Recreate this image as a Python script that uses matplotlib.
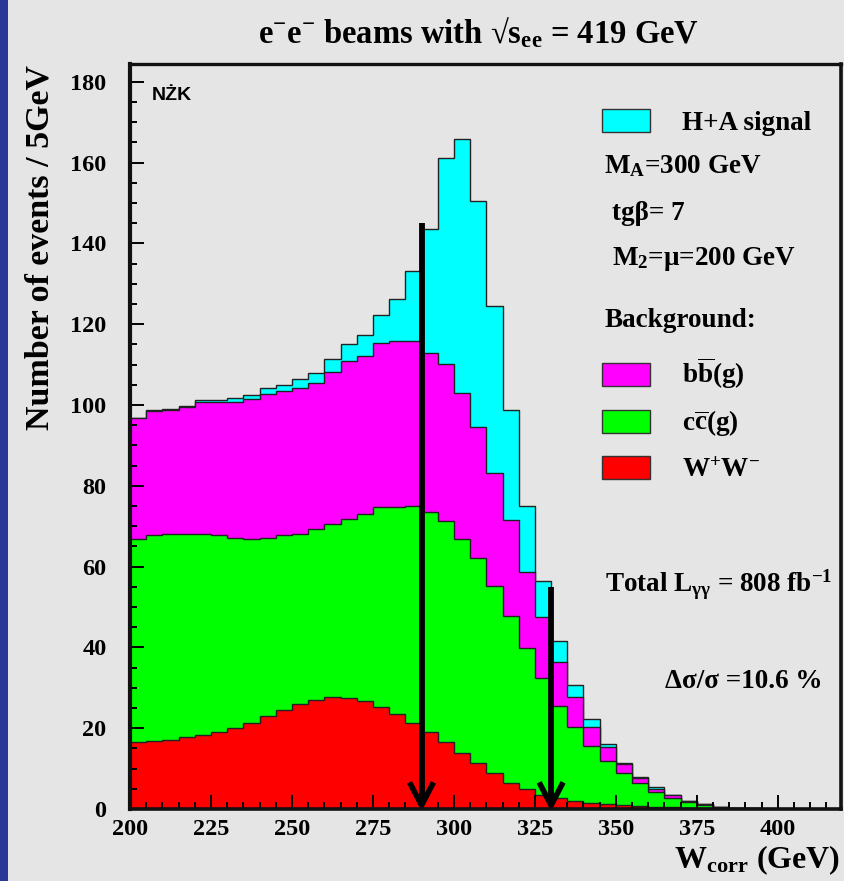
import numpy as np
import matplotlib
matplotlib.use("Agg")
import matplotlib.pyplot as plt
from matplotlib.patches import Rectangle

plt.rcParams['font.family'] = ['Liberation Serif', 'DejaVu Serif']
plt.rcParams['font.weight'] = 'bold'
plt.rcParams['mathtext.fontset'] = 'custom'
plt.rcParams['mathtext.rm'] = 'Liberation Serif:bold'
plt.rcParams['mathtext.it'] = 'Liberation Serif:bold'
plt.rcParams['mathtext.bf'] = 'Liberation Serif:bold'

# W_corr bins, 5 GeV wide
edges = np.arange(200, 425, 5)

# events per bin for each contribution
ww = [16.5, 16.8, 17.1, 17.7, 18.4, 19.1, 20.1, 21.4, 22.9, 24.5, 25.9, 27.1,
      27.6, 27.5, 26.7, 25.3, 23.4, 21.4, 19.0, 16.6, 13.9, 11.3, 9.0, 6.5,
      4.9, 3.4, 2.6, 2.1, 1.6, 1.2, 1.0, 0.7, 0.6, 0.4, 0.3, 0.2, 0.1, 0.1,
      0.05, 0.0, 0.0, 0.0, 0.0, 0.0]
cc = [50.3, 51.0, 50.9, 50.3, 49.6, 48.6, 46.9, 45.4, 44.3, 43.2, 42.2, 42.1,
      42.9, 44.2, 46.3, 49.5, 51.4, 53.6, 54.6, 54.7, 52.9, 50.9, 46.2, 41.3,
      35.0, 29.1, 23.0, 18.1, 14.0, 10.7, 8.0, 5.7, 3.7, 2.4, 1.5, 0.9, 0.5,
      0.2, 0.15, 0.1, 0.0, 0.0, 0.0, 0.0]
bb = [29.9, 30.7, 30.8, 31.4, 32.8, 33.0, 33.8, 34.7, 35.5, 35.7, 36.2, 36.2,
      37.7, 39.2, 39.2, 40.5, 41.0, 40.8, 39.2, 38.8, 36.2, 32.4, 27.9, 23.7,
      18.8, 14.9, 10.9, 7.6, 4.8, 3.4, 2.2, 1.3, 0.7, 0.6, 0.1, 0.05, 0.0,
      0.0, 0.0, 0.0, 0.0, 0.0, 0.0, 0.0]
signal = [0.1, 0.3, 0.3, 0.4, 0.5, 0.6, 0.9, 1.0, 1.4, 1.5, 2.1, 2.6,
          3.1, 4.1, 5.1, 7.0, 10.5, 17.4, 30.7, 51.0, 62.8, 56.0, 41.4, 27.3,
          16.4, 9.1, 5.2, 2.9, 1.8, 0.8, 0.3, 0.3, 0.4, 0.1, 0.1, 0.05, 0.0,
          0.0, 0.0, 0.0, 0.0, 0.0, 0.0, 0.0]

# mass window cuts
cut_lo, cut_hi = 290, 330
cut_lo_top, cut_hi_top = 145, 55

W, H = 844, 881
bg = '#e5e5e5'


def fx(x):
    return x / W


def fy(y):
    return 1 - y / H


fig = plt.figure(figsize=(W / 100, H / 100), dpi=100, facecolor=bg)
fig.add_artist(Rectangle((0, 0), fx(8), 1, transform=fig.transFigure,
                         facecolor='#283a96', edgecolor='none'))

ax = fig.add_axes([fx(130), fy(809), fx(841 - 130), (809 - 64) / H])
ax.set_facecolor(bg)

s_ww = np.array(ww)
s_cc = s_ww + np.array(cc)
s_bb = s_cc + np.array(bb)
s_tot = s_bb + np.array(signal)

for level, col in [(s_tot, '#00ffff'), (s_bb, '#ff00ff'),
                   (s_cc, '#00ff00'), (s_ww, '#ff0000')]:
    ax.stairs(level, edges, fill=True, facecolor=col,
              edgecolor='#222222', linewidth=1.0)

# cut arrows
for xc, top in [(cut_lo, cut_lo_top), (cut_hi, cut_hi_top)]:
    ax.plot([xc, xc], [top, 1.0], color='k', lw=4.2, solid_capstyle='butt',
            zorder=5)
    ax.plot([xc - 3.7, xc, xc + 3.7], [6.6, 0.9, 6.6], color='k', lw=4.0,
            solid_joinstyle='miter', solid_capstyle='butt', zorder=5)

ax.set_xlim(200, 419.5)
ax.set_ylim(0, 184.4)
ax.set_xticks(np.arange(200, 401, 25))
ax.set_xticks(np.arange(200, 420, 5), minor=True)
ax.set_yticks(np.arange(0, 181, 20))
ax.set_yticks(np.arange(0, 185, 5), minor=True)
ax.tick_params(which='both', direction='in', top=False, right=False,
               width=1.4, color='k', labelsize=17.5)
ax.tick_params(which='major', length=10)
ax.tick_params(which='minor', length=5)
ax.tick_params(axis='y', pad=17)
ax.tick_params(axis='x', pad=7)
for lab in ax.get_xticklabels() + ax.get_yticklabels():
    lab.set_fontweight('bold')
for side, lw in [('left', 3.0), ('bottom', 2.6), ('top', 2.4), ('right', 2.6)]:
    ax.spines[side].set_linewidth(lw)
    ax.spines[side].set_color('#111111')
    ax.spines[side].set_zorder(6)

fig.text(fx(478), fy(43), r'e$^{-}$e$^{-}$ beams with √s$_{ee}$ = 419 GeV',
         ha='center', va='baseline', fontsize=23.5, fontweight='bold')
fig.text(fx(40), fy(65), 'Number of events / 5GeV', rotation=90,
         ha='center', va='top', fontsize=24.5, fontweight='bold')
fig.text(fx(840), fy(868), r'W$_{corr}$ (GeV)', ha='right', va='baseline',
         fontsize=23, fontweight='bold')
fig.text(fx(152), fy(100), 'NŻK', ha='left', va='baseline', fontsize=14,
         fontweight='bold', family=['Liberation Sans', 'DejaVu Sans'])

# legend
fs = 19.5
keys = [('#00ffff', 109, 'H+A signal', 130),
        ('#ff00ff', 363, r'b$\overline{b}$(g)', 383),
        ('#00ff00', 410, r'c$\overline{c}$(g)', 430),
        ('#ff0000', 456, r'W$^{+}$W$^{-}$', 477)]
for col, ytop, label, ybase in keys:
    fig.add_artist(Rectangle((fx(602), fy(ytop + 23)), fx(48), 23 / H,
                             transform=fig.transFigure, facecolor=col,
                             edgecolor='#333333', linewidth=1.0))
    fig.text(fx(682), fy(ybase), label, ha='left', va='baseline',
             fontsize=fs, fontweight='bold')

fig.text(fx(604), fy(173), r'M$_{A}$=300 GeV', va='baseline', fontsize=fs,
         fontweight='bold')
fig.text(fx(612), fy(220), 'tgβ= 7', va='baseline', fontsize=fs,
         fontweight='bold')
fig.text(fx(612), fy(265), r'M$_{2}$=μ=200 GeV', va='baseline', fontsize=fs,
         fontweight='bold')
fig.text(fx(605), fy(327), 'Background:', va='baseline', fontsize=fs,
         fontweight='bold')
fig.text(fx(605), fy(592), r'Total L$_{γγ}$ = 808 fb$^{-1}$', va='baseline',
         fontsize=fs, fontweight='bold')
fig.text(fx(665), fy(688), 'Δσ/σ =10.6 %', va='baseline', fontsize=fs,
         fontweight='bold')

fig.savefig('out.png', dpi=100, facecolor=bg)
